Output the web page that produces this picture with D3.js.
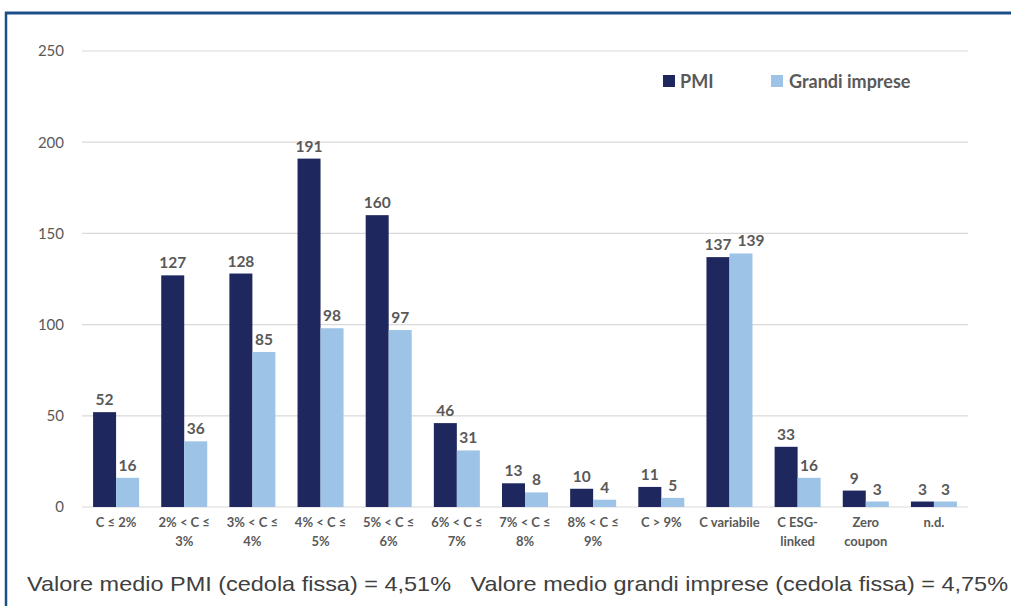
<!DOCTYPE html>
<html><head><meta charset="utf-8">
<script src="https://cdn.jsdelivr.net/npm/d3@7"></script>
<style>body{margin:0;background:#fff;}svg{display:block;}</style>
</head><body>
<svg id="c" width="1011" height="606"></svg>
<script>
const categories = [["C ≤ 2%"],["2% < C ≤","3%"],["3% < C ≤","4%"],["4% < C ≤","5%"],["5% < C ≤","6%"],["6% < C ≤","7%"],["7% < C ≤","8%"],["8% < C ≤","9%"],["C > 9%"],["C variabile"],["C ESG-","linked"],["Zero","coupon"],["n.d."]];
const pmi = [52,127,128,191,160,46,13,10,11,137,33,9,3];
const grandi = [16,36,85,98,97,31,8,4,5,139,16,3,3];
const seriesNames = ["PMI","Grandi imprese"];
const yTicks = [0,50,100,150,200,250];
const footer = "Valore medio PMI (cedola fissa) = 4,51%   Valore medio grandi imprese (cedola fissa) = 4,75%";

const colors = ["#1f285e","#9dc3e6"];
const svg = d3.select("#c");
const font = "Lato, 'Open Sans', sans-serif";

// frame
svg.append("line").attr("x1",5).attr("x2",1011).attr("y1",13).attr("y2",13).attr("stroke","#1d4f87").attr("stroke-width",3);
svg.append("line").attr("x1",6).attr("x2",6).attr("y1",12).attr("y2",606).attr("stroke","#1d4f87").attr("stroke-width",2.5);

const pL=82, pR=968, pT=51, pB=507;
const idx = categories.map((d,i)=>i);
const x = d3.scaleBand().domain(idx).range([pL,pR]).paddingInner(0.325).paddingOuter(0.1625);
const xs = d3.scaleBand().domain([0,1]).range([0,x.bandwidth()]);
const y = d3.scaleLinear().domain([0,250]).range([pB,pT]);

// grid
svg.append("g").selectAll("line").data(yTicks).join("line")
  .attr("x1",pL).attr("x2",pR).attr("y1",d=>y(d)).attr("y2",d=>y(d))
  .attr("stroke","#d9d9d9").attr("stroke-width",1.2);

// y axis
const ya = svg.append("g").attr("transform",`translate(${pL},0)`)
  .call(d3.axisLeft(y).tickValues(yTicks).tickSize(0).tickPadding(18));
ya.select(".domain").remove();
ya.selectAll("text").attr("font-family",font).attr("font-size",15).attr("fill","#595959");

// bars
const series=[pmi,grandi];
const labelSel=[];
series.forEach((vals,s)=>{
  svg.append("g").selectAll("rect").data(vals).join("rect")
    .attr("x",(d,i)=>x(i)+xs(s)).attr("width",xs.bandwidth())
    .attr("y",d=>y(d)).attr("height",d=>y(0)-y(d)).attr("fill",colors[s]);
  labelSel.push(svg.append("g").selectAll("text").data(vals).join("text")
    .attr("x",(d,i)=>x(i)+xs(s)+xs.bandwidth()/2).attr("y",d=>y(d)-7)
    .attr("text-anchor","middle").attr("font-family",font).attr("font-weight","bold")
    .attr("font-size",15.5).attr("fill","#595959").text(d=>d));
});
// avoid overlap between pair labels: push second label right
const n0 = labelSel[0].nodes(), n1 = labelSel[1].nodes();
n0.forEach((a,i)=>{
  const b=n1[i], ba=a.getBBox(), bb=b.getBBox();
  const vOver = !(ba.y+ba.height < bb.y || bb.y+bb.height < ba.y);
  const over = ba.x+ba.width+6 - bb.x;
  if(vOver && over>0){ b.setAttribute("x", +b.getAttribute("x")+over); }
});

// x labels
const xl = svg.append("g");
categories.forEach((lines,i)=>{
  const t = xl.append("text").attr("text-anchor","middle").attr("font-family",font)
    .attr("font-weight","bold").attr("font-size",13).attr("fill","#595959");
  lines.forEach((ln,j)=>{
    t.append("tspan").attr("x",x(i)+x.bandwidth()/2).attr("y",527+j*19).text(ln);
  });
});

// legend
const lg = [{x:663,tx:680},{x:771,tx:789}];
seriesNames.forEach((n,i)=>{
  svg.append("rect").attr("x",lg[i].x).attr("y",75).attr("width",12).attr("height",12).attr("fill",colors[i]);
  svg.append("text").attr("x",lg[i].tx).attr("y",88).attr("font-family",font).attr("font-weight","bold")
    .attr("font-size",18).attr("fill","#595959").text(n);
});

// footer
svg.append("text").attr("x",27).attr("y",591).attr("font-family","'Liberation Sans', Arial, sans-serif")
  .attr("font-size",21).attr("fill","#404040").attr("textLength",981).attr("lengthAdjust","spacingAndGlyphs")
  .style("white-space","pre").text(footer);
</script>
</body></html>
